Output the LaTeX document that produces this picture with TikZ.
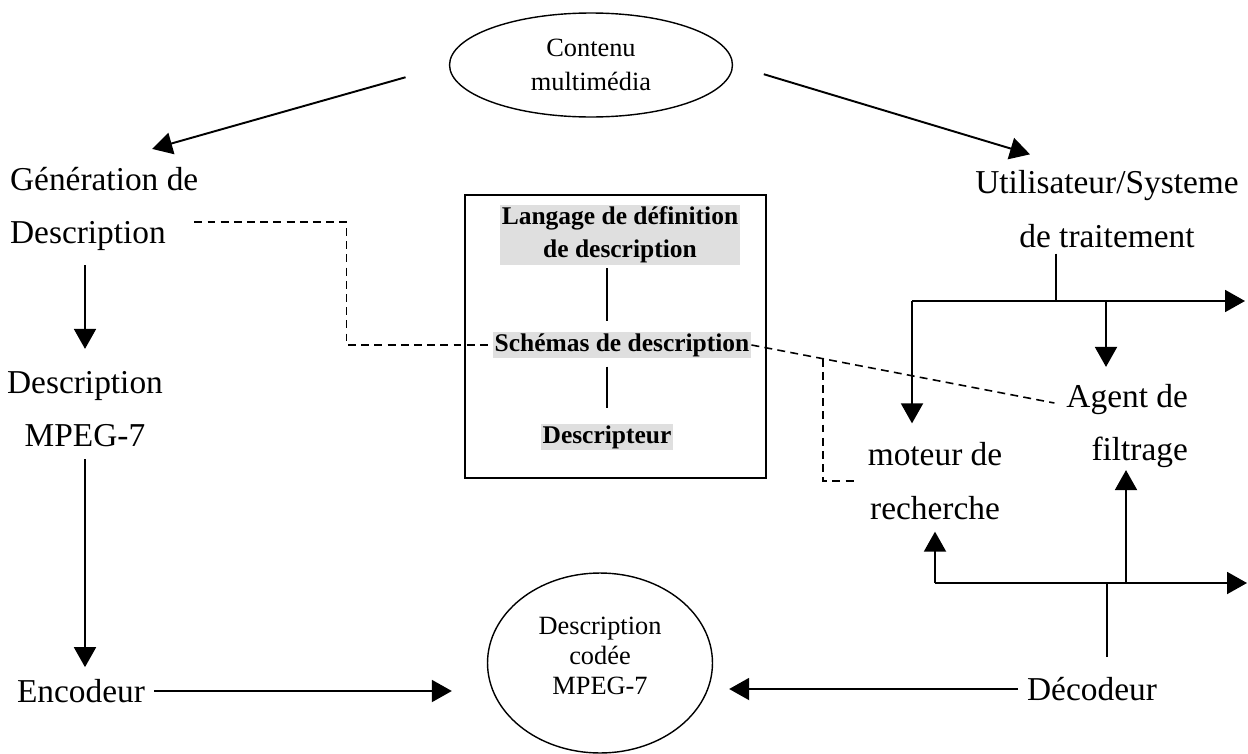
\documentclass[tikz,border=0pt]{standalone}
\usepackage{fontspec}
\setmainfont{Liberation Serif}
\usetikzlibrary{arrows.meta,positioning,shapes.geometric,calc}

\begin{document}
\begin{tikzpicture}[x=0.02cm,y=-0.02cm,
  txt/.style={font=\fontsize{19}{30.5}\selectfont,inner sep=1pt},
  bul/.style={draw,ellipse,line width=0.8pt,inner sep=0pt,align=center},
  shd/.style={fill=gray!25,inner sep=1pt,font=\bfseries\fontsize{14.5}{19}\selectfont,align=center},
  flow/.style={->,line width=1.1pt},
  wire/.style={line width=1.1pt},
  lnk/.style={line width=0.9pt,dash pattern=on 4.5pt off 3pt},
  >={Triangle[length=4mm,width=4.4mm]}]
\useasboundingbox (0,0) rectangle (1248,754);
% nodes
\node[bul,minimum width=5.66cm,minimum height=2.08cm,font=\fontsize{15}{19}\selectfont] (cont) at (591,65) {Contenu\\multimédia};
\node[txt,align=left,anchor=west] (gen) at (8,209) {Génération de\\Description};
\node[txt,align=center] (util) at (1107,209) {Utilisateur/Systeme\\de traitement};
\node[txt,align=center] (desc) at (85,409) {Description\\MPEG-7};
\node[txt] (enc) at (81,691) {Encodeur};
\node[bul,minimum width=4.5cm,minimum height=3.6cm,text depth=8pt,font=\fontsize{15}{17}\selectfont] (coded) at (600,663) {Description\\codée\\MPEG-7};
\node[txt] (dec) at (1092,689) {Décodeur};
\node[txt,align=right,anchor=east] (agent) at (1190,426) {Agent de\\filtrage};
\node[txt,align=center] (mot) at (935,481) {moteur de\\recherche};
% box of the DDL
\node[draw,wire,minimum width=6.02cm,minimum height=5.66cm] (box) at (615.5,336.5) {};
\node[shd] (lang) at (620,235) {Langage de définition\\de description};
\node[shd] (schem) at (622,345) {Schémas de description};
\node[shd] (dscr) at (607,437) {Descripteur};
\draw[wire,shorten <=0.06cm,shorten >=0.2cm] (lang.south -| dscr.north) -- (schem.north -| dscr.north);
\draw[wire,shorten <=0.16cm,shorten >=0.3cm] (schem.south -| dscr.north) -- (dscr.north);
% main flow
\draw[flow,shorten <=0.9cm] (cont.west) -- ($(gen.north)+(48,-16)$);
\draw[flow,shorten <=0.64cm] (cont.east) -- ($(util.north)+(-77,-14)$);
\draw[flow,shorten <=0.24cm,shorten >=0.4cm] (gen.south -| desc.north) -- (desc.north);
\draw[flow,shorten <=0.2cm,shorten >=0.2cm] (desc.south) -- (desc.south |- enc.north);
\draw[flow,shorten <=0.14cm,shorten >=0.7cm] (enc.east) -- (enc.east -| coded.west);
\draw[flow,shorten <=0.14cm,shorten >=0.32cm] (dec.west) -- (dec.west -| coded.east);
% dashed links
\draw[lnk] ($(gen.east)+(-6,13)$) -- ++(152,0) |- (schem.west);
\draw[lnk] (schem.east) -- coordinate[pos=0.236] (bk) ($(agent.west)+(-10,-23)$);
\draw[lnk,shorten >=0.2cm] (bk) |- (mot.west);
% user side
\coordinate (tj) at (1056,301);
\coordinate (tl) at (912,301);
\coordinate (tr) at (1245,301);
\coordinate (ta) at (1106,301);
\draw[wire,shorten <=0.08cm] (util.south -| tj) -- (tj);
\draw[flow] (tl) -- (tr);
\draw[flow,shorten >=0.34cm] (tl) -- (tl |- mot.north);
\draw[flow,shorten >=0.3cm] (ta) -- (ta |- agent.north);
\coordinate (bj) at (1107,583);
\coordinate (bl) at (935,583);
\coordinate (bq) at (1247,583);
\coordinate (bf) at (1126,583);
\draw[wire,shorten <=0.36cm] (dec.north -| bj) -- (bj);
\draw[flow] (bl) -- (bq);
\draw[flow,shorten >=0.2cm] (bl) -- (bl |- mot.south);
\draw[flow] (bf) -- (bf |- agent.south);
\end{tikzpicture}
\end{document}
